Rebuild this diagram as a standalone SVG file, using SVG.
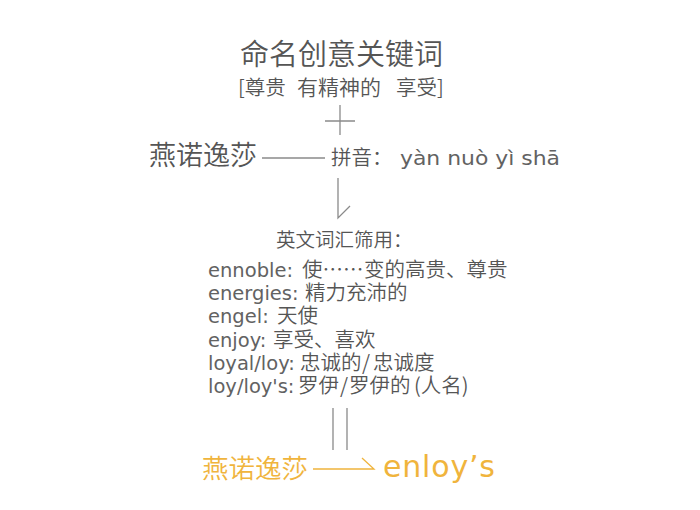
<svg xmlns="http://www.w3.org/2000/svg" width="700" height="510" viewBox="0 0 700 510">
<style>
.cn{font-family:"Noto Sans CJK SC","Noto Sans",sans-serif;fill:#555;font-weight:350}
.la{font-family:"DejaVu Sans","Liberation Sans",sans-serif;font-weight:400;fill:#626262}
.gold{fill:#F0B43C}
.ln{stroke:#8a8a8a;stroke-width:1.3;fill:none}
.gl{stroke:#F0B43C;stroke-width:1.3;fill:none}
</style>
<rect width="700" height="510" fill="#fff"/>
<g id="title">
<text class="cn" x="341.5" y="65" font-size="29" text-anchor="middle">命名创意关键词</text>
<text class="cn" x="238" y="95" font-size="20.5">[尊贵<tspan x="297" font-size="21">有精神的</tspan><tspan x="396">享受]</tspan></text>
</g>
<g id="name">
<text class="cn" x="149" y="165" font-size="27">燕诺逸莎</text>
</g>
<g id="pinyin">
<text class="cn" x="331" y="165" font-size="20.5">拼音：</text>
<text class="la" x="400" y="165" font-size="20" textLength="160" lengthAdjust="spacingAndGlyphs">yàn nuò yì shā</text>
</g>
<g id="words">
<text class="cn" x="276" y="247" font-size="19.5">英文词汇筛用：</text>
<text class="cn" x="208" y="277" font-size="20.5"><tspan class="la" font-size="19.5">ennoble:</tspan><tspan x="302">使……</tspan><tspan x="364">变的高贵、尊贵</tspan></text>
<text class="cn" x="208" y="300" font-size="20.5"><tspan class="la" font-size="19.5">energies:</tspan><tspan x="305">精力充沛的</tspan></text>
<text class="cn" x="208" y="323" font-size="20.5"><tspan class="la" font-size="19.5">engel:</tspan><tspan x="277">天使</tspan></text>
<text class="cn" x="208" y="347" font-size="20.5"><tspan class="la" font-size="19.5">enjoy:</tspan><tspan x="273">享受、喜欢</tspan></text>
<text class="cn" x="208" y="370" font-size="20.5"><tspan class="la" font-size="19.5">loyal/loy:</tspan><tspan x="300">忠诚的</tspan><tspan x="362">/</tspan><tspan x="373">忠诚度</tspan></text>
<text class="cn" x="208" y="393" font-size="20.5"><tspan class="la" font-size="19.5">loy/loy's:</tspan><tspan x="298">罗伊</tspan><tspan x="340">/</tspan><tspan x="349">罗伊的</tspan><tspan x="414">(人名)</tspan></text>
</g>
<g id="result">
<text class="cn gold" x="202" y="478" font-size="26.5">燕诺逸莎</text>
<text class="la gold" x="383" y="477" font-size="30" textLength="112" lengthAdjust="spacing">enloy’s</text>
</g>
<g id="connectors">
<path class="ln" d="M340 105V135M325 121H355"/>
<path class="ln" d="M262 158H325"/>
<path class="ln" d="M338 178V218L350 206"/>
<path class="ln" d="M333 408V450M347 408V450"/>
<path class="gl" d="M313 469H374L362 458"/>
</g>
</svg>
